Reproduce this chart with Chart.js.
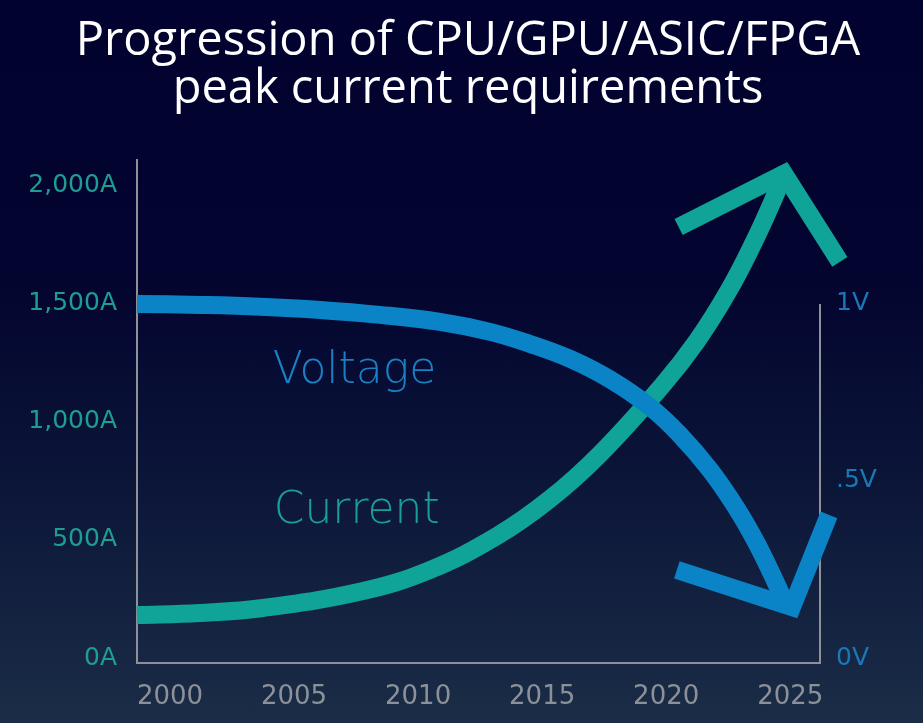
<!DOCTYPE html>
<html>
<head>
<meta charset="utf-8">
<title>Peak current requirements</title>
<script src="https://cdn.jsdelivr.net/npm/chart.js@4.4.1/dist/chart.umd.min.js"></script>
<style>
  html, body {
    margin: 0;
    padding: 0;
    overflow: hidden;
  }
  body {
    width: 923px;
    height: 723px;
    background: linear-gradient(180deg, #020230 0%, #03042f 38%, #0b1538 66%, #1b2d47 100%);
  }
  #wrap {
    position: relative;
    width: 923px;
    height: 723px;
  }
</style>
</head>
<body>
<div id="wrap"><canvas id="peakChart"></canvas></div>
<script>
// values (years, amps, volts)
const xTicks = [2000, 2005, 2010, 2015, 2020, 2025];
const ampTicks = [0, 500, 1000, 1500, 2000];
const voltTicks = [0, 0.5, 1];

const currentYears = [1998.67, 2001.21, 2003.75, 2007.78, 2010.48, 2013.18, 2015.32, 2017.33, 2019.83, 2021.24, 2022.49, 2023.54, 2024.26, 2024.75];
const currentAmps = [182, 191, 212, 284, 373, 517, 674, 864, 1153, 1343, 1551, 1763, 1928, 2051];

const voltageYears = [1998.67, 2001.21, 2003.63, 2006.05, 2008.46, 2010.88, 2012.9, 2014.51, 2016.12, 2017.73, 2019.35, 2020.56, 2021.77, 2022.78, 2023.58, 2024.26, 2024.83];
const voltageVolts = [1.0, 0.997, 0.992, 0.983, 0.969, 0.949, 0.921, 0.887, 0.845, 0.787, 0.709, 0.63, 0.531, 0.429, 0.333, 0.237, 0.15];

// arrow heads: left barb, tip, right barb
const currentHeadYears = [2020.5, 2024.75, 2027.0];
const currentHeadAmps = [1826, 2051, 1678];
const voltageHeadYears = [2020.43, 2025.07, 2026.56];
const voltageHeadVolts = [0.249, 0.144, 0.404];

// axis ranges
const yearMin = 1998.67, yearMax = 2026.2;
const ampMin = -21, ampMax = 2110;
const ampsPerVolt = 1500;

// in-chart labels: [text, year, amps]
const seriesLabels = [
  ['Voltage', 2004.14, 1165],
  ['Current', 2004.18, 572]
];

const tealLine = '#10a398';
const blueLine = '#0a84c6';
const axisGray = '#8e9197';

function points(xs, ys) {
  return xs.map((x, i) => ({ x: x, y: ys[i] }));
}

const rightAxisLine = {
  id: 'rightAxisLine',
  beforeDatasetsDraw(chart) {
    const ctx = chart.ctx;
    const y2 = chart.scales.y2;
    const x = chart.chartArea.right;
    ctx.save();
    ctx.strokeStyle = axisGray;
    ctx.lineWidth = 2;
    ctx.beginPath();
    ctx.moveTo(x, y2.getPixelForValue(1));
    ctx.lineTo(x, chart.chartArea.bottom + 1);
    ctx.stroke();
    ctx.restore();
  }
};

const seriesText = {
  id: 'seriesText',
  afterDatasetsDraw(chart) {
    const ctx = chart.ctx;
    const xs = chart.scales.x;
    const ys = chart.scales.y;
    ctx.save();
    ctx.font = '200 44px "DejaVu Sans", sans-serif';
    ctx.textAlign = 'left';
    ctx.textBaseline = 'alphabetic';
    seriesLabels.forEach(([text, yr, amps], i) => {
      ctx.fillStyle = i === 0 ? '#1a80c2' : '#18a096';
      ctx.fillText(text, xs.getPixelForValue(yr), ys.getPixelForValue(amps));
    });
    ctx.restore();
  }
};

new Chart(document.getElementById('peakChart'), {
  type: 'line',
  data: {
    datasets: [
      {
        label: 'Voltage',
        data: points(voltageYears, voltageVolts),
        yAxisID: 'y2',
        borderColor: blueLine,
        borderWidth: 18,
        tension: 0.4,
        pointRadius: 0,
        clip: false,
        order: 0
      },
      {
        label: 'Voltage arrow',
        data: points(voltageHeadYears, voltageHeadVolts),
        yAxisID: 'y2',
        borderColor: blueLine,
        borderWidth: 18,
        borderJoinStyle: 'miter',
        tension: 0,
        pointRadius: 0,
        clip: false,
        order: 0
      },
      {
        label: 'Current',
        data: points(currentYears, currentAmps),
        yAxisID: 'y',
        borderColor: tealLine,
        borderWidth: 18,
        tension: 0.4,
        pointRadius: 0,
        clip: false,
        order: 1
      },
      {
        label: 'Current arrow',
        data: points(currentHeadYears, currentHeadAmps),
        yAxisID: 'y',
        borderColor: tealLine,
        borderWidth: 18,
        borderJoinStyle: 'miter',
        tension: 0,
        pointRadius: 0,
        clip: false,
        order: 1
      }
    ]
  },
  options: {
    responsive: true,
    maintainAspectRatio: false,
    animation: false,
    layout: { padding: { left: 13, right: 0, top: 0, bottom: 0 } },
    plugins: {
      legend: { display: false },
      tooltip: { enabled: false },
      title: {
        display: true,
        text: ['Progression of CPU/GPU/ASIC/FPGA', 'peak current requirements'],
        color: '#ffffff',
        font: { family: '"Open Sans", sans-serif', size: 47, weight: 'normal', lineHeight: 1.02 },
        padding: { top: 18, bottom: 46 }
      }
    },
    scales: {
      x: {
        type: 'linear',
        min: yearMin,
        max: yearMax,
        afterBuildTicks: (scale) => { scale.ticks = xTicks.map(v => ({ value: v })); },
        afterFit: (scale) => { scale.height = 60; },
        grid: { display: false, drawTicks: false },
        border: { display: true, color: axisGray, width: 2 },
        ticks: {
          color: '#8c9099',
          padding: 19,
          maxRotation: 0,
          font: { family: '"DejaVu Sans", sans-serif', size: 26 },
          callback: (v) => String(v)
        }
      },
      y: {
        position: 'left',
        min: ampMin,
        max: ampMax,
        afterBuildTicks: (scale) => { scale.ticks = ampTicks.map(v => ({ value: v })); },
        afterFit: (scale) => { scale.width = 124; },
        grid: { display: false, drawTicks: false },
        border: { display: true, color: axisGray, width: 2 },
        ticks: {
          color: '#1e9d90',
          padding: 20,
          font: { family: '"DejaVu Sans", sans-serif', size: 25 },
          callback: (v) => v.toLocaleString('en-US') + 'A'
        }
      },
      y2: {
        position: 'right',
        min: ampMin / ampsPerVolt,
        max: ampMax / ampsPerVolt,
        afterBuildTicks: (scale) => { scale.ticks = voltTicks.map(v => ({ value: v })); },
        afterFit: (scale) => { scale.width = 103; },
        grid: { display: false, drawTicks: false },
        border: { display: false },
        ticks: {
          color: '#1a78b6',
          padding: 16,
          font: { family: '"DejaVu Sans", sans-serif', size: 25 },
          callback: (v) => String(v).replace(/^0\./, '.') + 'V'
        }
      }
    }
  },
  plugins: [rightAxisLine, seriesText]
});
</script>
</body>
</html>
